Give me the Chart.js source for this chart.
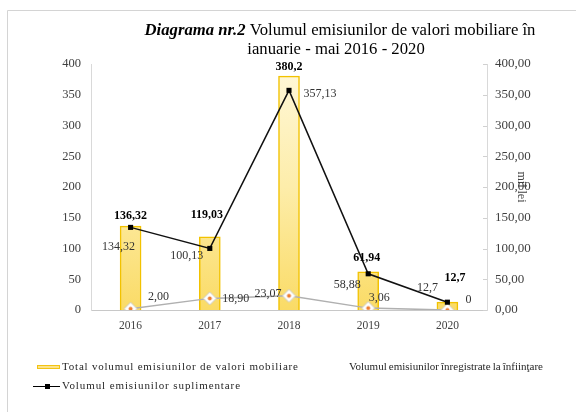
<!DOCTYPE html>
<html>
<head>
<meta charset="utf-8">
<script src="https://cdn.jsdelivr.net/npm/chart.js@4/dist/chart.umd.min.js"></script>
<style>
html,body{margin:0;padding:0;background:#fff;}
#wrap{width:576px;height:412px;position:relative;}
canvas{display:block;}
</style>
</head>
<body>
<div id="wrap"><canvas id="c" width="576" height="412"></canvas></div>
<script>
// ---- data ----
const years = ['2016', '2017', '2018', '2019', '2020'];
const totalValues = [136.32, 119.03, 380.2, 61.94, 12.7];          // bars (left axis)
const supplementaryValues = [134.32, 100.13, 357.13, 58.88, 12.7]; // black line
const registeredValues = [2.00, 18.90, 23.07, 3.06, 0];            // grey line
const leftTicks = [0, 50, 100, 150, 200, 250, 300, 350, 400];
const rightTicks = [0, 50, 100, 150, 200, 250, 300, 350, 400];
const titleBold = 'Diagrama nr.2';
const titleRest = ' Volumul emisiunilor de valori mobiliare în';
const titleLine2 = 'ianuarie - mai 2016 - 2020';
const seriesNames = [
  'Total volumul emisiunilor de valori mobiliare',
  'Volumul emisiunilor suplimentare',
  'Volumul emisiunilor înregistrate la înfiinţare'
];
const rightAxisTitle = 'mil lei';

// ---- label offsets (style only, relative to each mark) ----
const totalLabelOffsets = [[0, -10.6], [-3, -21.8], [0, -9.5], [-1.5, -14], [7.6, -24.5]];
const suppLabelOffsets = [[-12, 19], [-23, 7], [31, 3], [-21, 11], [-20, -14]];
const regLabelOffsets = [[28, -12], [26, 0], [-21, -2], [11, -10], [21, -10]];

const SERIF = '"Liberation Serif", "Times New Roman", serif';
const fmtPlain = v => String(v).replace('.', ',');
const fmtTwo = v => v === 0 ? '0' : v.toFixed(2).replace('.', ',');

// diamond marker with orange centre
const diamond = document.createElement('canvas');
diamond.width = 15; diamond.height = 15;
(function () {
  const g = diamond.getContext('2d');
  g.beginPath();
  g.moveTo(7.5, 1); g.lineTo(14, 7.5); g.lineTo(7.5, 14); g.lineTo(1, 7.5); g.closePath();
  g.fillStyle = '#ffffff'; g.fill();
  g.strokeStyle = '#c8c8c8'; g.lineWidth = 1; g.stroke();
  g.beginPath(); g.arc(7.5, 7.5, 2, 0, Math.PI * 2);
  g.fillStyle = '#ED7D31'; g.fill();
})();

function barGradient(ctx) {
  const chart = ctx.chart;
  const area = chart.chartArea;
  if (!area) return '#FCE38A';
  const gr = chart.ctx.createLinearGradient(0, area.top, 0, area.bottom);
  gr.addColorStop(0, '#FFF8DA');
  gr.addColorStop(0.5, '#FDEDAA');
  gr.addColorStop(1, '#FADB66');
  return gr;
}

function spreadText(ctx, text, x, y, width) {
  ctx.letterSpacing = '0px';
  const natural = ctx.measureText(text).width;
  const n = text.length - 1;
  const ls = n > 0 ? (width - natural) / n : 0;
  ctx.letterSpacing = ls.toFixed(2) + 'px';
  ctx.fillText(text, x, y);
  ctx.letterSpacing = '0px';
}

function wordSpread(ctx, text, x, y, width) {
  const words = text.split(' ');
  const total = words.reduce((s, w) => s + ctx.measureText(w).width, 0);
  const gap = (width - total) / (words.length - 1);
  let cx = x;
  words.forEach(w => { ctx.fillText(w, cx, y); cx += ctx.measureText(w).width + gap; });
}

const decor = {
  id: 'decor',
  beforeDraw(chart) {
    const c = chart.ctx;
    c.save();
    c.fillStyle = '#fff';
    c.fillRect(0, 0, chart.width, chart.height);
    c.strokeStyle = '#d4d4d4';
    c.lineWidth = 1;
    c.beginPath();
    c.moveTo(7.5, 412); c.lineTo(7.5, 10.5); c.lineTo(576, 10.5);
    c.stroke();
    c.restore();
  },
  afterDatasetsDraw(chart) {
    const c = chart.ctx;
    c.save();
    c.textAlign = 'center';
    c.textBaseline = 'middle';
    const mb = chart.getDatasetMeta(0);
    c.font = 'bold 12px ' + SERIF;
    c.fillStyle = '#000';
    mb.data.forEach((el, i) => {
      const o = totalLabelOffsets[i];
      c.fillText(fmtPlain(totalValues[i]), el.x + o[0], el.y + o[1]);
    });
    c.font = '12px ' + SERIF;
    c.fillStyle = '#333';
    const ms = chart.getDatasetMeta(1);
    ms.data.forEach((el, i) => {
      const o = suppLabelOffsets[i];
      c.fillText(fmtPlain(supplementaryValues[i]), el.x + o[0], el.y + o[1]);
    });
    const mr = chart.getDatasetMeta(2);
    mr.data.forEach((el, i) => {
      const o = regLabelOffsets[i];
      c.fillText(fmtTwo(registeredValues[i]), el.x + o[0], el.y + o[1]);
    });
    c.restore();
  },
  afterDraw(chart) {
    const c = chart.ctx;
    const y2 = chart.scales.y2;
    c.save();
    c.strokeStyle = '#d0d0d0';
    c.lineWidth = 1;
    rightTicks.forEach(v => {
      const py = Math.round(y2.getPixelForValue(v)) + 0.5;
      c.beginPath(); c.moveTo(y2.left - 4, py); c.lineTo(y2.left, py); c.stroke();
    });
    // title
    c.fillStyle = '#000';
    c.textBaseline = 'middle';
    c.textAlign = 'left';
    const fb = 'bold italic 16.7px ' + SERIF;
    const fn = '16.7px ' + SERIF;
    c.font = fb; const wb = c.measureText(titleBold).width;
    c.font = fn; const wr = c.measureText(titleRest).width;
    const cx = 340;
    let x0 = cx - (wb + wr) / 2;
    c.font = fb; c.fillText(titleBold, x0, 31);
    c.font = fn; c.fillText(titleRest, x0 + wb, 31);
    c.textAlign = 'center';
    c.fillText(titleLine2, 336, 50);
    // right axis title
    c.save();
    c.translate(521, 187);
    c.rotate(Math.PI / 2);
    c.font = '12px ' + SERIF;
    c.fillStyle = '#404040';
    c.textAlign = 'center';
    c.fillText(rightAxisTitle, 0, 0);
    c.restore();
    // legend
    c.textAlign = 'left';
    c.textBaseline = 'middle';
    c.fillStyle = '#FCE38A';
    c.fillRect(37, 365, 23, 4);
    c.strokeStyle = '#F2C314';
    c.lineWidth = 1;
    c.strokeRect(37.5, 365.5, 22, 3);
    c.strokeStyle = '#000';
    c.beginPath(); c.moveTo(33, 386.5); c.lineTo(60, 386.5); c.stroke();
    c.fillStyle = '#000';
    c.fillRect(45, 384, 5, 5);
    c.fillStyle = '#262626';
    c.font = '11px ' + SERIF;
    spreadText(c, seriesNames[0], 62, 367, 236);
    spreadText(c, seriesNames[1], 62, 386, 178);
    wordSpread(c, seriesNames[2], 349, 367, 194);
    c.restore();
  }
};

const tickColor = '#404040';
const axisColor = '#d9d9d9';

new Chart(document.getElementById('c'), {
  data: {
    labels: years,
    datasets: [
      {
        type: 'bar',
        label: seriesNames[0],
        data: totalValues,
        yAxisID: 'y',
        backgroundColor: barGradient,
        borderColor: '#F2C200',
        borderWidth: 1.5,
        barThickness: 21,
        order: 3
      },
      {
        type: 'line',
        label: seriesNames[1],
        data: supplementaryValues,
        yAxisID: 'y2',
        borderColor: '#111',
        borderWidth: 1.5,
        pointStyle: 'rect',
        pointRadius: 3.6,
        pointBackgroundColor: '#000',
        pointBorderColor: '#000',
        pointBorderWidth: 0,
        tension: 0,
        order: 1
      },
      {
        type: 'line',
        label: seriesNames[2],
        data: registeredValues,
        yAxisID: 'y2',
        borderColor: '#b0b0b0',
        borderWidth: 1.5,
        pointStyle: diamond,
        tension: 0,
        order: 2
      }
    ]
  },
  options: {
    responsive: false,
    animation: false,
    devicePixelRatio: 1,
    layout: { padding: { top: 64, left: 0, right: 0, bottom: 0 } },
    plugins: { legend: { display: false }, tooltip: { enabled: false }, title: { display: false } },
    scales: {
      x: {
        grid: { display: false, drawTicks: false },
        border: { display: true, color: '#c8c8c8', width: 1 },
        ticks: { color: tickColor, font: { family: SERIF, size: 11.5 }, padding: 9 },
        afterFit: s => { s.height = 102; }
      },
      y: {
        position: 'left',
        min: 0, max: 400,
        grid: { display: false, drawTicks: false },
        border: { display: true, color: axisColor, width: 1 },
        afterBuildTicks: s => { s.ticks = leftTicks.map(v => ({ value: v })); },
        ticks: { color: tickColor, font: { family: SERIF, size: 12.5 }, padding: 10, callback: v => String(v) },
        afterFit: s => { s.width = 91; }
      },
      y2: {
        position: 'right',
        min: 0, max: 400,
        grid: { display: false, drawTicks: false },
        border: { display: true, color: axisColor, width: 1 },
        afterBuildTicks: s => { s.ticks = rightTicks.map(v => ({ value: v })); },
        ticks: { color: tickColor, font: { family: SERIF, size: 13 }, padding: 8, callback: v => v.toFixed(2).replace('.', ',') },
        afterFit: s => { s.width = 89; }
      }
    }
  },
  plugins: [decor]
});
</script>
</body>
</html>
